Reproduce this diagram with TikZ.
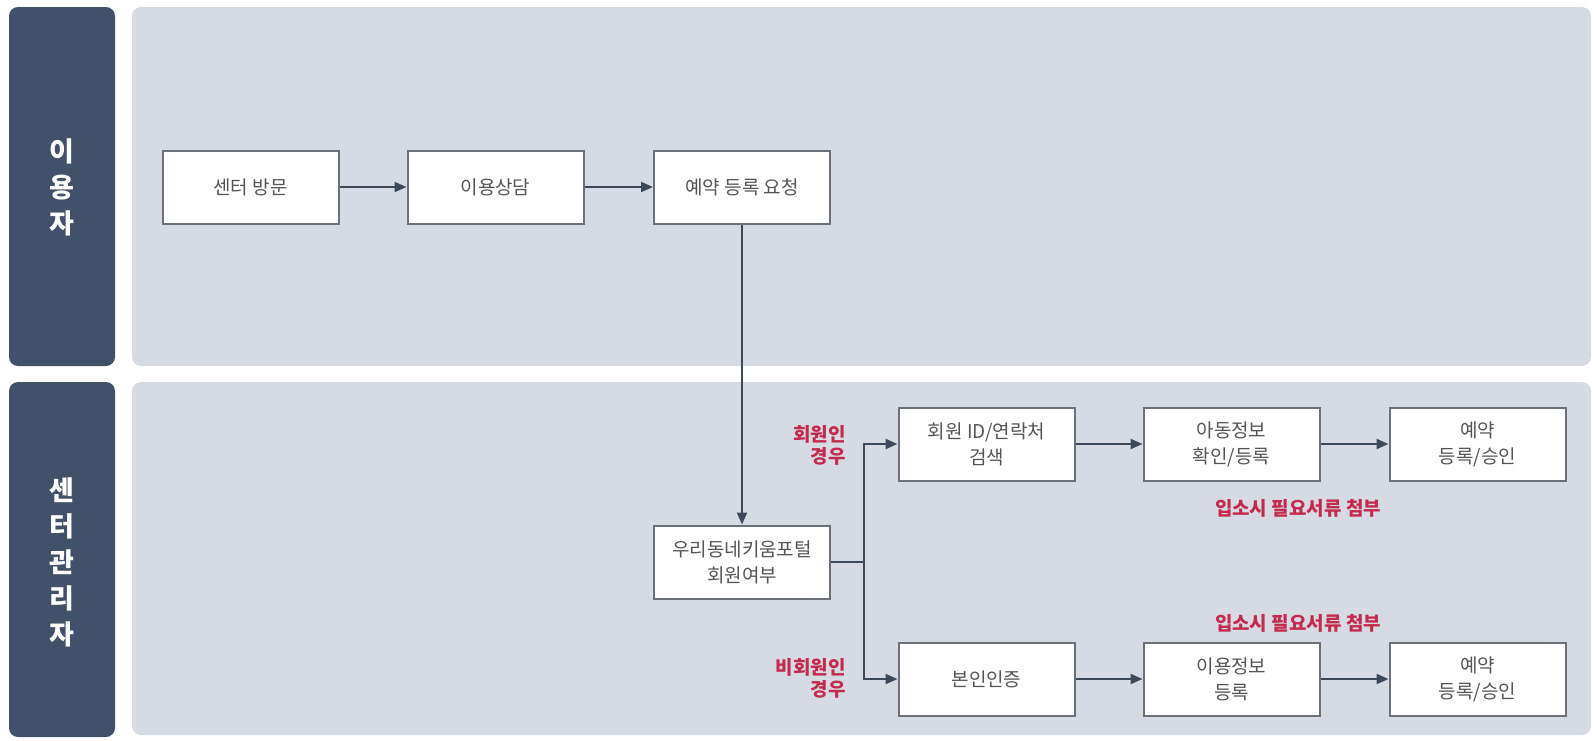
\documentclass[tikz,border=0pt]{standalone}
\usepackage{fontspec}
\setmainfont{Noto Sans CJK KR}
\usetikzlibrary{arrows.meta}
\definecolor{bandc}{HTML}{425169}
\definecolor{lanec}{HTML}{D6DBE3}
\definecolor{boxline}{HTML}{6C7079}
\definecolor{boxtext}{HTML}{555555}
\definecolor{redc}{HTML}{C42A4E}
\definecolor{arrc}{HTML}{3D4859}
\tikzset{
  flowbox/.style={draw=boxline, line width=2pt, fill=white, text=boxtext,
    minimum width=176pt, minimum height=73pt, inner sep=0pt, align=center,
    font=\fontsize{19}{26}\selectfont},
  flowline/.style={draw=arrc, line width=2pt},
  flowarrow/.style={flowline, -{Triangle[length=12pt,width=10pt]}},
  redlabel/.style={text=redc, inner sep=0pt, font=\fontsize{19}{22}\selectfont\bfseries},
  bandlabel/.style={text=white, inner sep=0pt, align=center, font=\fontsize{27}{36}\selectfont\bfseries},
}
\begin{document}
\begin{tikzpicture}[x=1pt,y=-1pt]
\useasboundingbox (0,0) rectangle (1594,740);
% lanes
\fill[lanec, rounded corners=9pt] (132,7) rectangle (1591,366);
\fill[lanec, rounded corners=9pt] (132,382) rectangle (1591,735);
\fill[bandc, rounded corners=9pt] (9,7) rectangle (115,366);
\fill[bandc, rounded corners=9pt] (9,382) rectangle (115,737);
\node[bandlabel] (lu) at (62,187) {이\\용\\자};
\node[bandlabel] (la) at (62,562) {센\\터\\관\\리\\자};
% boxes
\node[flowbox] (visit) at (250.5,187) {센터 방문};
\node[flowbox] (consult) at (495.5,187) {이용상담};
\node[flowbox] (request) at (742,187) {예약 등록 요청};
\node[flowbox] (member) at (742,562) {우리동네키움포털\\회원여부};
\node[flowbox] (search) at (986.5,444) {회원 ID/연락처\\검색};
\node[flowbox] (child) at (1231.5,444) {아동정보\\확인/등록};
\node[flowbox] (appr1) at (1477.5,444) {예약\\등록/승인};
\node[flowbox] (verify) at (986.5,679) {본인인증};
\node[flowbox] (info) at (1231.5,679) {이용정보\\등록};
\node[flowbox] (appr2) at (1477.5,679) {예약\\등록/승인};
% labels
\node[redlabel, align=right, anchor=east] (lm) at (846,445) {회원인\\경우};
\node[redlabel, align=right, anchor=east] (ln) at (846,678) {비회원인\\경우};
\node[redlabel] (d1) at (1298,508) {입소시 필요서류 첨부};
\node[redlabel] (d2) at (1298,623) {입소시 필요서류 첨부};
% connectors
\coordinate (br) at (864,562);
\draw[flowarrow] (visit) -- (consult);
\draw[flowarrow] (consult) -- (request);
\draw[flowarrow] (request) -- (member);
\draw[flowline] (member.east) -- (br);
\draw[flowarrow] (br) |- (search.west);
\draw[flowarrow] (br) |- (verify.west);
\draw[flowarrow] (search) -- (child);
\draw[flowarrow] (child) -- (appr1);
\draw[flowarrow] (verify) -- (info);
\draw[flowarrow] (info) -- (appr2);
\end{tikzpicture}
\end{document}
